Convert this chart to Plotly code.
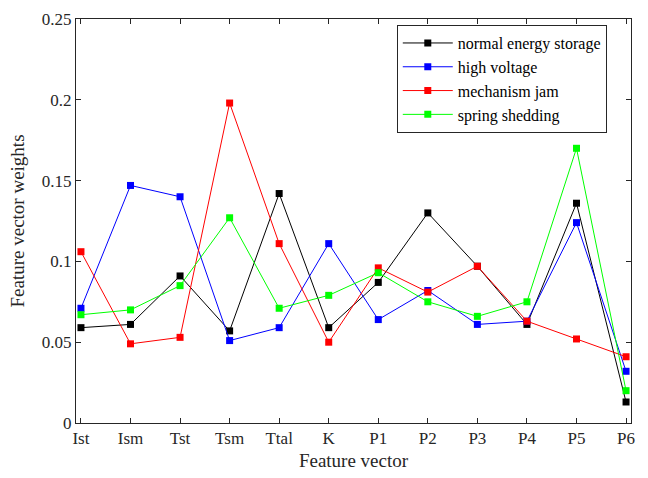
import plotly.graph_objects as go

features = ["Ist", "Ism", "Tst", "Tsm", "Ttal", "K", "P1", "P2", "P3", "P4", "P5", "P6"]

normal_energy_storage = [0.059, 0.061, 0.091, 0.057, 0.142, 0.059, 0.087, 0.130, 0.097, 0.061, 0.136, 0.013]
high_voltage = [0.071, 0.147, 0.140, 0.051, 0.059, 0.111, 0.064, 0.082, 0.061, 0.063, 0.124, 0.032]
mechanism_jam = [0.106, 0.049, 0.053, 0.198, 0.111, 0.050, 0.096, 0.081, 0.097, 0.063, 0.052, 0.041]
spring_shedding = [0.067, 0.070, 0.085, 0.127, 0.071, 0.079, 0.093, 0.075, 0.066, 0.075, 0.170, 0.020]

y_ticks = [0, 0.05, 0.1, 0.15, 0.2, 0.25]
y_tick_text = ["0", "0.05", "0.1", "0.15", "0.2", "0.25"]

series = [
    ("normal energy storage", normal_energy_storage, "#000000"),
    ("high voltage", high_voltage, "#0000ff"),
    ("mechanism jam", mechanism_jam, "#ff0000"),
    ("spring shedding", spring_shedding, "#00ff00"),
]

x_pos = list(range(1, len(features) + 1))

fig = go.Figure()
for name, vals, color in series:
    fig.add_trace(go.Scatter(
        x=x_pos, y=vals, name=name, mode="lines+markers",
        line=dict(color=color, width=1),
        marker=dict(symbol="square", size=7, color=color),
    ))

font_family = "Liberation Serif"

fig.update_layout(
    width=648, height=478,
    margin=dict(l=76, r=17, t=10, b=54),
    plot_bgcolor="white", paper_bgcolor="white",
    font=dict(family=font_family, size=17, color="#262626"),
    showlegend=True,
    legend=dict(
        x=0.578, y=0.985, xanchor="left", yanchor="top",
        bgcolor="white", bordercolor="#262626", borderwidth=1,
        font=dict(family=font_family, size=16, color="#000000"),
        tracegroupgap=0, itemwidth=50,
    ),
    xaxis=dict(
        range=[0.9, 12.1],
        tickmode="array", tickvals=x_pos, ticktext=features,
        ticks="inside", ticklen=5, tickcolor="#262626",
        tickfont=dict(family=font_family, size=17),
        showline=True, linecolor="#262626", linewidth=1, mirror="allticks",
        showgrid=False, zeroline=False,
        title=dict(text="Feature vector", font=dict(family=font_family, size=19), standoff=6),
    ),
    yaxis=dict(
        range=[0, 0.25],
        tickmode="array", tickvals=y_ticks, ticktext=y_tick_text,
        ticks="inside", ticklen=5, tickcolor="#262626",
        tickfont=dict(family=font_family, size=17),
        showline=True, linecolor="#262626", linewidth=1, mirror="allticks",
        showgrid=False, zeroline=False,
        title=dict(text="Feature vector weights", font=dict(family=font_family, size=19), standoff=12),
    ),
)

fig.write_html("out.html")
